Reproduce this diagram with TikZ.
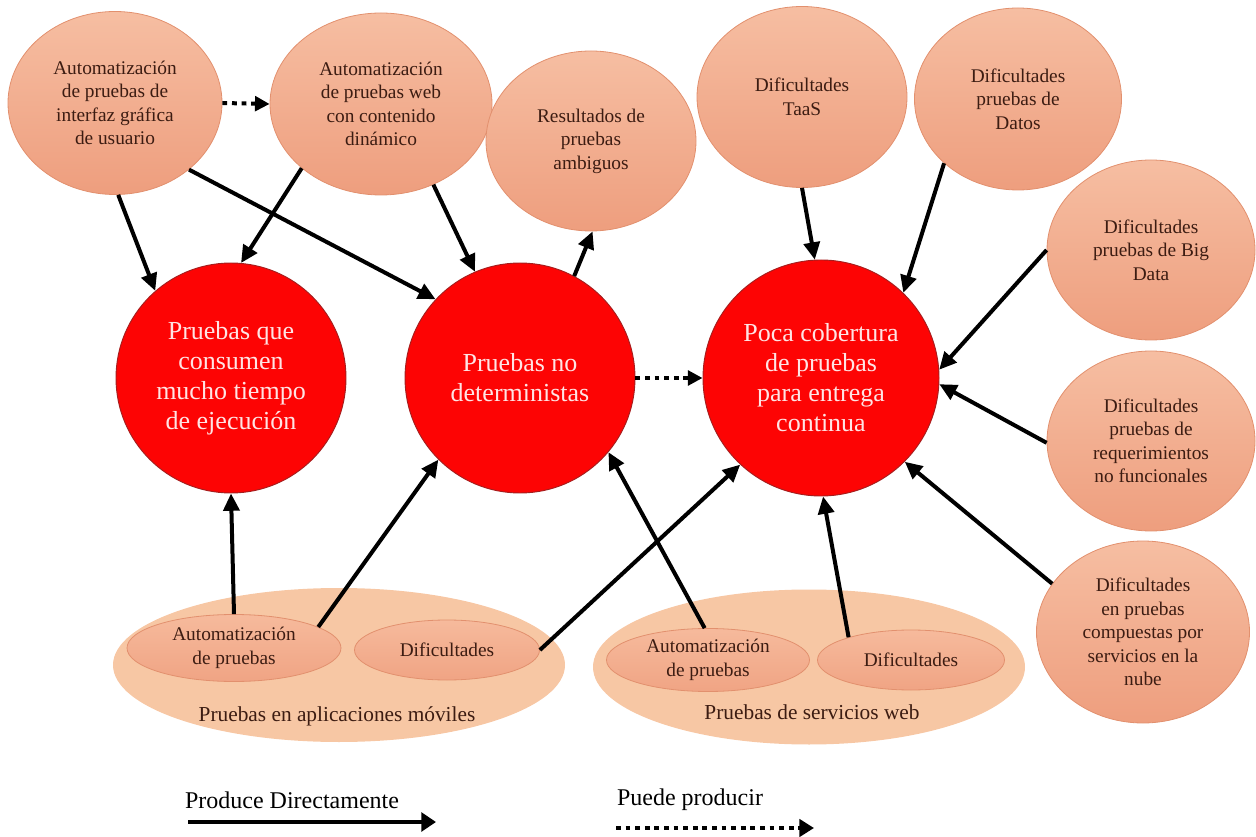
\documentclass[tikz,border=0pt]{standalone}
\usepackage{fontspec}
\setmainfont{Liberation Serif}
\usetikzlibrary{arrows.meta,shapes.geometric}

\definecolor{peachtop}{RGB}{246,190,162}
\definecolor{peachbot}{RGB}{238,158,126}
\definecolor{peachline}{RGB}{226,144,110}
\definecolor{grouppeach}{RGB}{247,199,164}
\definecolor{innertop}{RGB}{246,186,156}
\definecolor{innerbot}{RGB}{240,164,132}
\definecolor{darktext}{RGB}{60,28,18}
\definecolor{redfill}{RGB}{253,4,4}
\definecolor{redline}{RGB}{165,30,30}
\definecolor{redtext}{RGB}{255,228,228}

\tikzset{
  smalltext/.style={font=\fontsize{14.5}{17.6}\selectfont, text=darktext, align=center},
  peach/.style={ellipse, inner sep=0pt, draw=peachline, line width=0.6pt,
    top color=peachtop, bottom color=peachbot, smalltext},
  problem/.style={circle, inner sep=0pt, draw=redline, line width=0.7pt,
    fill=redfill, text=redtext, align=center,
    font=\fontsize{19.5}{22.5}\selectfont},
  groupbox/.style={ellipse, inner sep=0pt, draw=none, fill=grouppeach},
  inner/.style={ellipse, inner sep=0pt, draw=peachline, line width=0.6pt,
    top color=innertop, bottom color=innerbot, smalltext},
  grouplabel/.style={font=\fontsize{16}{19}\selectfont, text=darktext},
  legendtext/.style={font=\fontsize{18}{21}\selectfont, text=black},
  conn/.style={line width=3pt, -{Triangle[length=13pt,width=12pt]}},
  maybe/.style={line width=3pt, dash pattern=on 3.6pt off 3.6pt,
    -{Triangle[length=11pt,width=11pt]}},
}

\begin{document}
\begin{tikzpicture}[x=0.75pt,y=-0.75pt]
\useasboundingbox (0,0) rectangle (1256,837);

% ---- causes (top and right) ----
\node[peach, minimum width=160.5pt, minimum height=137.25pt] (N1) at (115,103)
  {Automatización\\de pruebas de\\interfaz gráfica\\de usuario};
\node[peach, minimum width=166.5pt, minimum height=136.5pt] (N2) at (381,104)
  {Automatización\\de pruebas web\\con contenido\\dinámico};
\node[peach, minimum width=157.5pt, minimum height=135pt] (N3) at (591,141)
  {Resultados de\\pruebas\\ambiguos};
\node[peach, minimum width=157.5pt, minimum height=135.75pt] (N4) at (802,97)
  {Dificultades\\TaaS};
\node[peach, minimum width=155.25pt, minimum height=136.5pt] (N5) at (1018,99)
  {Dificultades\\pruebas de\\Datos};
\node[peach, minimum width=156pt, minimum height=135pt] (N6) at (1151,250)
  {Dificultades\\pruebas de Big\\Data};
\node[peach, minimum width=156pt, minimum height=135pt] (N7) at (1151,441)
  {Dificultades\\pruebas de\\requerimientos\\no funcionales};
\node[peach, minimum width=159.75pt, minimum height=136.5pt] (N8) at (1143,632)
  {Dificultades\\en pruebas\\compuestas por\\servicios en la\\nube};

% ---- central problems ----
\node[problem, minimum size=172.5pt] (R1) at (231,378)
  {Pruebas que\\consumen\\mucho tiempo\\de ejecución};
\node[problem, minimum size=172.5pt] (R2) at (520,378)
  {Pruebas no\\deterministas};
\node[problem, minimum size=177pt] (R3) at (821,378)
  {Poca cobertura\\de pruebas\\para entrega\\continua};

% ---- grouped test areas (bottom) ----
\node[groupbox, minimum width=339pt, minimum height=115.5pt] (GM) at (339,665) {};
\node[inner, minimum width=160.5pt, minimum height=50.25pt] (MA) at (234,648)
  {Automatización\\de pruebas};
\node[inner, minimum width=138.75pt, minimum height=45pt] (MD) at (447,650)
  {Dificultades};
\node[grouplabel] (ML) at (337,716) {Pruebas en aplicaciones móviles};

\node[groupbox, minimum width=324pt, minimum height=116.25pt] (GW) at (809,667) {};
\node[inner, minimum width=152.25pt, minimum height=47.25pt] (WA) at (708,660)
  {Automatización\\de pruebas};
\node[inner, minimum width=140.25pt, minimum height=45pt] (WD) at (911,660)
  {Dificultades};
\node[grouplabel] (WL) at (812,712) {Pruebas de servicios web};

% ---- relations ----
\draw[maybe] (N1.east) -- (N2.west);
\draw[maybe] (R2.east) -- (R3.west);

\draw[conn] (N1.272) -- (R1.131);
\draw[conn] (N2.219) -- (R1.85);
\draw[conn] (N1.318) -- (R2.137);
\draw[conn] (N2.303) -- (R2.113);
\draw[conn] (R2.62) -- (N3.271);

\draw[conn] (N4.south) -- (R3.93);
\draw[conn] (N5.221) -- (R3.46);
\draw[conn] (N6.west) -- (R3.4);
\draw[conn] (N7.181) -- (R3.357);
\draw[conn] (N8.152) -- (R3.315);

\draw[conn] (MA.north) -- (R1.south);
\draw[conn] (MA.14) -- (R2.225);
\draw[conn] (MD.east) -- (R3.227);
\draw[conn] (WA.96) -- (R2.320);
\draw[conn] (WD.160) -- (R3.271);

% ---- legend ----
\node[legendtext] (L1) at (292,800) {Produce Directamente};
\node[legendtext] (L2) at (690,800) {Puede producir};
\coordinate (L1a) at (188,822);
\coordinate (L1b) at (436,822);
\coordinate (L2a) at (616,828);
\coordinate (L2b) at (814,828);
\draw[line width=3.6pt, -{Triangle[length=11pt,width=14pt]}] (L1a) -- (L1b);
\draw[line width=3.4pt, dash pattern=on 3.6pt off 3.6pt,
  -{Triangle[length=11pt,width=13pt]}] (L2a) -- (L2b);
\end{tikzpicture}
\end{document}
